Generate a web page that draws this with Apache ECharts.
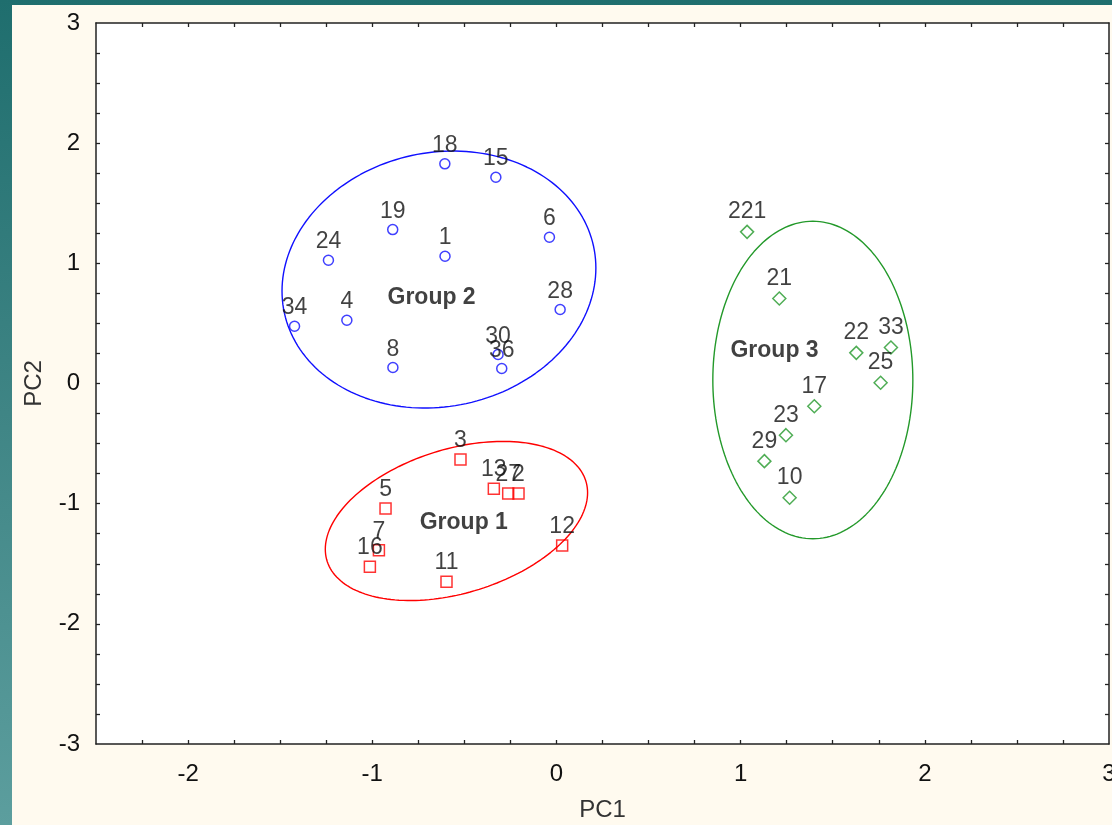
<!DOCTYPE html>
<html>
<head>
<meta charset="utf-8">
<title>PCA scores</title>
<script src="https://cdn.jsdelivr.net/npm/echarts@6/dist/echarts.min.js"></script>
<style>
  html, body { margin: 0; padding: 0; }
  body {
    width: 1112px; height: 825px; overflow: hidden; position: relative;
    background: linear-gradient(to bottom, #1f6e6e 0%, #3f8585 50%, #5c9e9e 100%);
  }
  #panel {
    position: absolute; left: 12px; top: 5px; width: 1100px; height: 820px;
    background: #fffaef;
  }
  #chart { position: absolute; left: 0; top: 0; width: 1112px; height: 825px; }
</style>
</head>
<body>
<div id="panel"></div>
<div id="chart"></div>
<script>
// Axis ticks and labels
const xLabelValues = [-2, -1, 0, 1, 2, 3];
const xTickValues = [-2.25, -2, -1.75, -1.5, -1.25, -1, -0.75, -0.5, -0.25, 0, 0.25, 0.5, 0.75,
                     1, 1.25, 1.5, 1.75, 2, 2.25, 2.5, 2.75];
const yLabelValues = [-3, -2, -1, 0, 1, 2, 3];
const yTickValues = [-2.75, -2.5, -2.25, -2, -1.75, -1.5, -1.25, -1, -0.75, -0.5, -0.25, 0,
                     0.25, 0.5, 0.75, 1, 1.25, 1.5, 1.75, 2, 2.25, 2.5, 2.75];

// Group 1 scores (squares)
const group1Labels = ['3', '13', '27', '2', '5', '7', '16', '11', '12'];
const group1X = [-0.521, -0.340, -0.262, -0.206, -0.928, -0.964, -1.013, -0.597, 0.031];
const group1Y = [-0.632, -0.876, -0.915, -0.915, -1.040, -1.387, -1.525, -1.650, -1.348];

// Group 2 scores (circles)
const group2Labels = ['18', '15', '19', '1', '6', '24', '34', '4', '28', '8', '30', '36'];
const group2X = [-0.606, -0.329, -0.889, -0.605, -0.038, -1.238, -1.422, -1.138, 0.020, -0.888, -0.317, -0.297];
const group2Y = [1.828, 1.716, 1.281, 1.059, 1.217, 1.026, 0.476, 0.526, 0.616, 0.133, 0.241, 0.125];

// Group 3 scores (diamonds)
const group3Labels = ['221', '21', '22', '33', '25', '17', '23', '29', '10'];
const group3X = [1.035, 1.210, 1.628, 1.816, 1.760, 1.400, 1.246, 1.129, 1.266];
const group3Y = [1.262, 0.707, 0.255, 0.300, 0.006, -0.189, -0.430, -0.646, -0.951];

// Group captions
const groupNames = ['Group 1', 'Group 2', 'Group 3'];
const groupNameX = [-0.503, -0.678, 1.184];
const groupNameY = [-1.154, 0.713, 0.275];

// Ellipses: centre plus two conjugate semi-axis vectors (PC1, PC2 units)
const ellipse1 = { cx: -0.543, cy: -1.144, ux: 0.712, uy: 0.235, vx: 0, vy: 0.619 };
const ellipse2 = { cx: -0.638, cy: 0.865, ux: 0.852, uy: 0.096, vx: 0, vy: 1.065 };
const ellipse3 = { cx: 1.392, cy: 0.029, ux: 0.543, uy: 0, vx: 0, vy: 1.321 };

const RED = '#ff0000', BLUE = '#1010ff', GREEN = '#23992a';
const FONT = "'Liberation Sans', Arial, sans-serif";
const TEXT = '#111111';

function ellipsePath(e) {
  const pts = [];
  const n = 180;
  for (let i = 0; i <= n; i++) {
    const t = (i / n) * Math.PI * 2;
    pts.push([e.cx + e.ux * Math.cos(t) + e.vx * Math.sin(t),
              e.cy + e.uy * Math.cos(t) + e.vy * Math.sin(t)]);
  }
  return pts;
}

function points(xs, ys, names) {
  return xs.map((x, i) => ({ value: [x, ys[i]], name: names[i] }));
}

function ellipseSeries(e, color) {
  return {
    type: 'line', data: ellipsePath(e), showSymbol: false, symbol: 'none',
    lineStyle: { color: color, width: 1.4 }, silent: true, z: 2
  };
}

function scoreSeries(xs, ys, names, symbol, size, color) {
  return {
    type: 'scatter', data: points(xs, ys, names), symbol: symbol, symbolSize: size,
    itemStyle: { color: 'rgba(255,255,255,0)', borderColor: color, borderWidth: 1.5 },
    label: {
      show: true, position: 'top', distance: 1, formatter: '{b}',
      color: TEXT, fontFamily: FONT, fontSize: 23
    },
    z: 3
  };
}

const axisLine = { show: true, onZero: false, lineStyle: { color: '#222', width: 1.5 } };
const tickStyle = { show: true, inside: true, length: 4, lineStyle: { color: '#222', width: 1.3 } };

const chart = echarts.init(document.getElementById('chart'), null, { renderer: 'canvas' });
chart.setOption({
  animation: false,
  backgroundColor: 'transparent',
  grid: {
    left: 96, top: 23, right: 3, bottom: 81, outerBoundsMode: 'none', containLabel: false,
    show: true, backgroundColor: '#ffffff', borderWidth: 0
  },
  xAxis: [
    {
      type: 'value', min: -2.5, max: 3, position: 'bottom',
      name: 'PC1', nameLocation: 'middle', nameGap: 54,
      nameTextStyle: { color: '#333', fontFamily: FONT, fontSize: 24 },
      axisLine: axisLine,
      axisTick: Object.assign({ customValues: xTickValues }, tickStyle),
      axisLabel: { customValues: xLabelValues, color: TEXT, fontFamily: FONT, fontSize: 24, margin: 18 },
      splitLine: { show: false }
    },
    {
      type: 'value', min: -2.5, max: 3, position: 'top',
      axisLine: axisLine,
      axisTick: Object.assign({ customValues: xTickValues }, tickStyle),
      axisLabel: { show: false },
      splitLine: { show: false }
    }
  ],
  yAxis: [
    {
      type: 'value', min: -3, max: 3, interval: 1, position: 'left',
      name: 'PC2', nameLocation: 'middle', nameGap: 50, nameRotate: 90,
      nameTextStyle: { color: '#333', fontFamily: FONT, fontSize: 24 },
      axisLine: axisLine,
      axisTick: Object.assign({ customValues: yTickValues }, tickStyle),
      axisLabel: { customValues: yLabelValues, color: TEXT, fontFamily: FONT, fontSize: 24, margin: 16 },
      splitLine: { show: false }
    },
    {
      type: 'value', min: -3, max: 3, interval: 1, position: 'right',
      axisLine: axisLine,
      axisTick: Object.assign({ customValues: yTickValues }, tickStyle),
      axisLabel: { show: false },
      splitLine: { show: false }
    }
  ],
  series: [
    ellipseSeries(ellipse1, RED),
    ellipseSeries(ellipse2, BLUE),
    ellipseSeries(ellipse3, GREEN),
    scoreSeries(group1X, group1Y, group1Labels, 'rect', 11, RED),
    scoreSeries(group2X, group2Y, group2Labels, 'circle', 10, BLUE),
    scoreSeries(group3X, group3Y, group3Labels, 'diamond', 13, GREEN),
    {
      type: 'scatter', symbolSize: 0, silent: true, z: 4,
      data: points(groupNameX, groupNameY, groupNames),
      label: {
        show: true, position: 'inside', formatter: '{b}',
        color: TEXT, fontFamily: FONT, fontSize: 23, fontWeight: 'bold'
      }
    }
  ]
});
</script>
</body>
</html>
